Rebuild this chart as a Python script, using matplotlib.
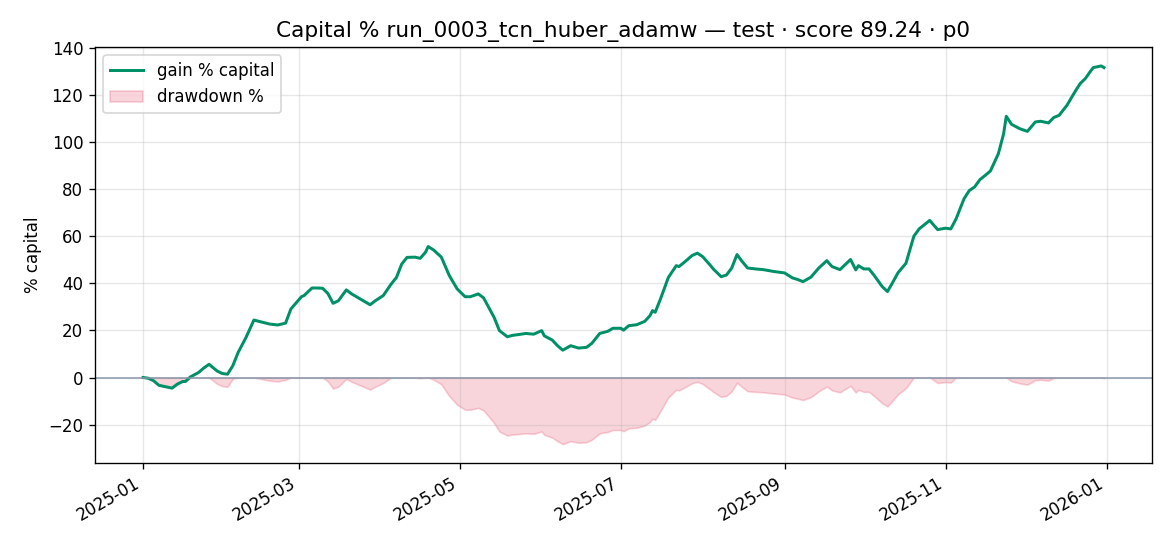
import pandas as pd
import matplotlib
matplotlib.use("Agg")
from matplotlib import pyplot as plt
import matplotlib.dates as mdates

# days since 2025-01-01 and gain % of capital
day_offsets = [
    0, 2, 4, 6, 8, 11, 13, 15, 16, 18, 21, 23, 25, 28, 30, 32, 34, 36, 39, 42,
    44, 48, 51, 54, 56, 60, 61, 64, 66, 68, 70, 72, 74, 77, 79, 83, 86, 88, 91, 94,
    96, 98, 100, 103, 105, 107, 108, 110, 113, 116, 119, 122, 124, 127, 129, 133, 135, 138, 140, 142,
    145, 148, 151, 152, 155, 157, 159, 162, 165, 168, 170, 173, 176, 178, 181, 182, 184, 187, 190, 192,
    193, 194, 196, 199, 202, 203, 205, 208, 210, 212, 215, 216, 219, 221, 223, 225, 227, 229, 232, 235,
    239, 243, 246, 248, 250, 253, 256, 259, 261, 264, 268, 270, 271, 273, 275, 277, 280, 282, 284, 286,
    289, 292, 294, 298, 301, 304, 306, 308, 311, 313, 315, 317, 319, 321, 324, 326, 327, 329, 332, 335,
    338, 340, 343, 345, 347, 350, 353, 355, 357, 359, 360, 363, 364,
]
gain_pct = [
    0.0, -0.3, -1.4, -3.3, -3.8, -4.5, -2.8, -1.7, -1.7, 0.3, 2.1, 4.0, 5.6, 2.8, 1.7, 1.4, 5.0, 10.6, 17.0, 24.4,
    23.8, 22.7, 22.3, 23.1, 29.1, 34.3, 34.8, 38.0, 38.0, 37.9, 35.7, 31.5, 32.6, 37.2, 35.5, 32.9, 30.9, 32.6, 34.8, 39.7,
    42.5, 48.2, 51.0, 51.1, 50.6, 53.2, 55.6, 54.2, 51.1, 43.3, 37.6, 34.3, 34.3, 35.5, 33.8, 25.5, 19.9, 17.3, 17.9, 18.2,
    18.7, 18.4, 19.9, 17.7, 15.9, 13.5, 11.6, 13.5, 12.5, 12.8, 14.5, 18.7, 19.6, 20.9, 20.9, 20.1, 22.0, 22.4, 23.8, 26.2,
    28.4, 27.7, 33.3, 42.5, 47.5, 47.1, 48.9, 51.8, 52.8, 51.3, 47.5, 46.1, 42.8, 43.5, 46.5, 52.2, 49.2, 46.5, 46.1, 45.8,
    45.0, 44.4, 42.3, 41.6, 40.7, 42.6, 46.5, 49.6, 47.1, 45.8, 50.1, 45.7, 47.5, 46.1, 46.1, 43.3, 38.6, 36.5, 40.4, 44.5,
    48.5, 60.0, 63.1, 66.7, 62.8, 63.4, 63.1, 67.4, 75.9, 79.4, 80.9, 84.0, 85.8, 87.7, 95.0, 103.5, 110.9, 107.5, 105.7, 104.5,
    108.5, 108.8, 108.1, 110.4, 111.3, 115.6, 121.3, 124.8, 127.0, 130.2, 131.6, 132.3, 131.6,
]

df = pd.DataFrame({"gain": gain_pct})
df["date"] = pd.Timestamp("2025-01-01") + pd.to_timedelta(day_offsets, unit="D")
# drawdown relative to running peak of capital
equity = 1 + df["gain"] / 100
df["drawdown"] = (equity / equity.cummax().clip(lower=1.0) - 1) * 100

fig, ax = plt.subplots(figsize=(9.75, 4.55), dpi=120)
ax.plot(df["date"], df["gain"], color="#009068", lw=1.8, label="gain % capital")
ax.fill_between(df["date"], df["drawdown"], 0, color="crimson", alpha=0.18, label="drawdown %")
ax.axhline(0, color="#8797ab", lw=0.9)
ax.set_title("Capital % run_0003_tcn_huber_adamw — test · score 89.24 · p0", fontsize=13)
ax.set_ylabel("% capital")
ax.grid(True, alpha=0.3)
ax.xaxis.set_major_locator(mdates.MonthLocator(interval=2))
ax.xaxis.set_major_formatter(mdates.DateFormatter("%Y-%m"))
ax.legend(loc="upper left")
fig.autofmt_xdate()
fig.subplots_adjust(left=0.0812, right=0.9846, top=0.9139, bottom=0.152)
fig.savefig("out.png")
